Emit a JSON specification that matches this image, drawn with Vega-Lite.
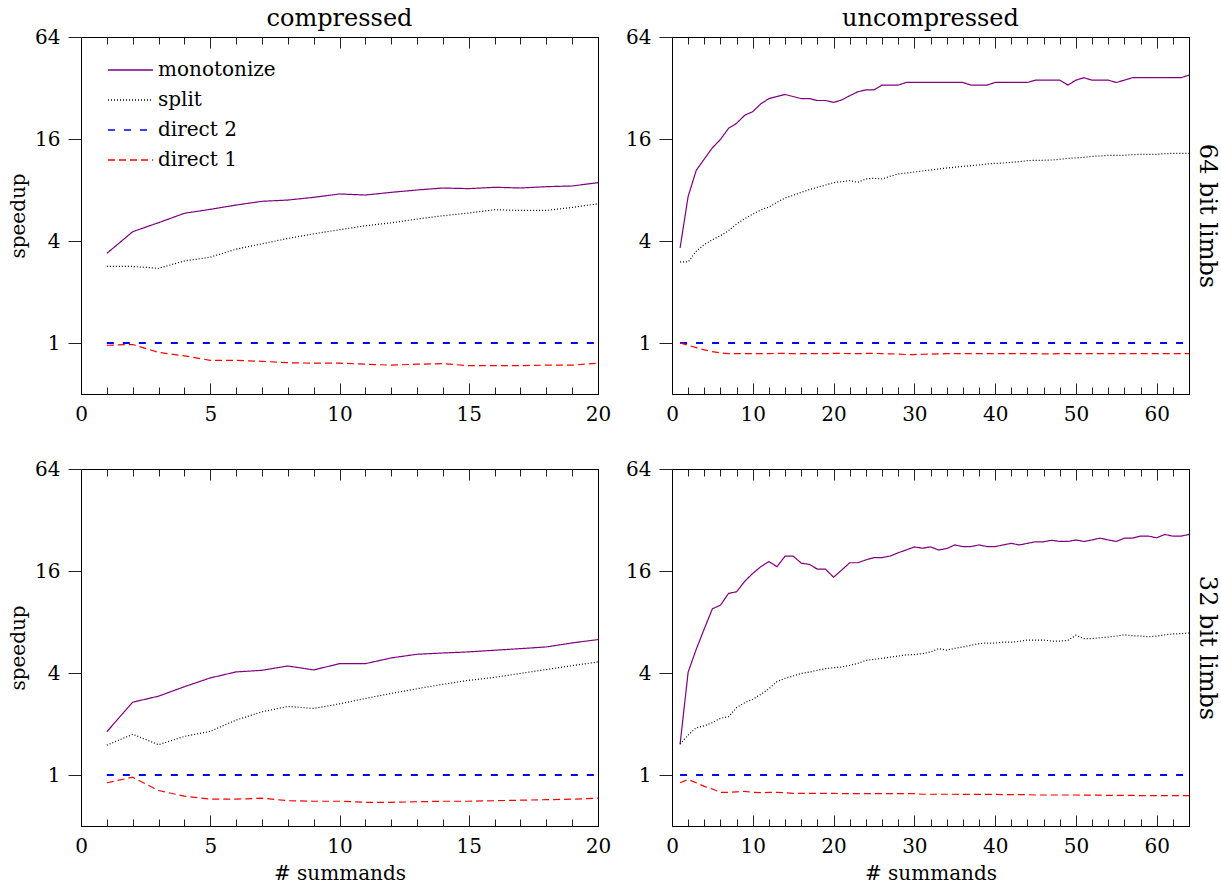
{
  "$schema": "https://vega.github.io/schema/vega-lite/v6.json",
  "padding": {"left": 8, "top": 6, "right": 4, "bottom": 2},
  "config": {
    "font": "DejaVu Serif",
    "view": {"stroke": "black", "strokeWidth": 1},
    "axis": {"labelFont": "DejaVu Serif", "labelFontSize": 20, "labelColor": "black", "titleFont": "DejaVu Serif", "titleFontSize": 20, "titleFontWeight": "normal", "titleColor": "black", "domainColor": "black", "tickColor": "#222", "tickWidth": 1, "grid": false, "labelFlush": false, "labelOverlap": false},
    "title": {"font": "DejaVu Serif", "fontSize": 24, "fontWeight": "normal", "color": "black", "offset": -4},
    "legend": {"labelFont": "DejaVu Serif", "labelFontSize": 20, "labelColor": "black"}
  },
  "datasets": {
    "tl": [
      {"n":1,"monotonize":3.38,"split":2.83,"direct 2":1,"direct 1":0.97},
      {"n":2,"monotonize":4.54,"split":2.83,"direct 2":1,"direct 1":0.98},
      {"n":3,"monotonize":5.13,"split":2.76,"direct 2":1,"direct 1":0.88},
      {"n":4,"monotonize":5.83,"split":3.05,"direct 2":1,"direct 1":0.84},
      {"n":5,"monotonize":6.15,"split":3.21,"direct 2":1,"direct 1":0.79},
      {"n":6,"monotonize":6.52,"split":3.58,"direct 2":1,"direct 1":0.79},
      {"n":7,"monotonize":6.86,"split":3.85,"direct 2":1,"direct 1":0.78},
      {"n":8,"monotonize":6.98,"split":4.14,"direct 2":1,"direct 1":0.765},
      {"n":9,"monotonize":7.24,"split":4.41,"direct 2":1,"direct 1":0.76},
      {"n":10,"monotonize":7.58,"split":4.66,"direct 2":1,"direct 1":0.76},
      {"n":11,"monotonize":7.47,"split":4.92,"direct 2":1,"direct 1":0.75},
      {"n":12,"monotonize":7.75,"split":5.12,"direct 2":1,"direct 1":0.74},
      {"n":13,"monotonize":8.0,"split":5.39,"direct 2":1,"direct 1":0.75},
      {"n":14,"monotonize":8.22,"split":5.64,"direct 2":1,"direct 1":0.755},
      {"n":15,"monotonize":8.15,"split":5.85,"direct 2":1,"direct 1":0.735},
      {"n":16,"monotonize":8.30,"split":6.12,"direct 2":1,"direct 1":0.735},
      {"n":17,"monotonize":8.22,"split":6.06,"direct 2":1,"direct 1":0.735},
      {"n":18,"monotonize":8.37,"split":6.06,"direct 2":1,"direct 1":0.74},
      {"n":19,"monotonize":8.45,"split":6.31,"direct 2":1,"direct 1":0.74},
      {"n":20,"monotonize":8.84,"split":6.64,"direct 2":1,"direct 1":0.76}
    ],
    "bl": [
      {"n":1,"monotonize":1.80,"split":1.50,"direct 2":1,"direct 1":0.90},
      {"n":2,"monotonize":2.69,"split":1.74,"direct 2":1,"direct 1":0.97},
      {"n":3,"monotonize":2.92,"split":1.51,"direct 2":1,"direct 1":0.81},
      {"n":4,"monotonize":3.32,"split":1.69,"direct 2":1,"direct 1":0.75},
      {"n":5,"monotonize":3.74,"split":1.81,"direct 2":1,"direct 1":0.72},
      {"n":6,"monotonize":4.06,"split":2.11,"direct 2":1,"direct 1":0.72},
      {"n":7,"monotonize":4.15,"split":2.36,"direct 2":1,"direct 1":0.73},
      {"n":8,"monotonize":4.40,"split":2.54,"direct 2":1,"direct 1":0.705},
      {"n":9,"monotonize":4.17,"split":2.47,"direct 2":1,"direct 1":0.70},
      {"n":10,"monotonize":4.54,"split":2.63,"direct 2":1,"direct 1":0.70},
      {"n":11,"monotonize":4.54,"split":2.83,"direct 2":1,"direct 1":0.69},
      {"n":12,"monotonize":4.91,"split":3.03,"direct 2":1,"direct 1":0.69},
      {"n":13,"monotonize":5.16,"split":3.23,"direct 2":1,"direct 1":0.695},
      {"n":14,"monotonize":5.25,"split":3.43,"direct 2":1,"direct 1":0.70},
      {"n":15,"monotonize":5.33,"split":3.62,"direct 2":1,"direct 1":0.70},
      {"n":16,"monotonize":5.45,"split":3.77,"direct 2":1,"direct 1":0.705},
      {"n":17,"monotonize":5.57,"split":3.98,"direct 2":1,"direct 1":0.71},
      {"n":18,"monotonize":5.70,"split":4.19,"direct 2":1,"direct 1":0.715},
      {"n":19,"monotonize":6.02,"split":4.42,"direct 2":1,"direct 1":0.72},
      {"n":20,"monotonize":6.30,"split":4.65,"direct 2":1,"direct 1":0.73}
    ],
    "tr": [
      {"n":1,"monotonize":3.64,"split":3.01,"direct 2":1,"direct 1":1.0},
      {"n":2,"monotonize":7.34,"split":3.01,"direct 2":1,"direct 1":0.97},
      {"n":3,"monotonize":10.45,"split":3.48,"direct 2":1,"direct 1":0.94},
      {"n":4,"monotonize":12.2,"split":3.81,"direct 2":1,"direct 1":0.91},
      {"n":5,"monotonize":14.2,"split":4.07,"direct 2":1,"direct 1":0.89},
      {"n":6,"monotonize":15.9,"split":4.30,"direct 2":1,"direct 1":0.875},
      {"n":7,"monotonize":18.5,"split":4.60,"direct 2":1,"direct 1":0.865},
      {"n":8,"monotonize":19.8,"split":5.04,"direct 2":1,"direct 1":0.865},
      {"n":9,"monotonize":22.1,"split":5.42,"direct 2":1,"direct 1":0.865},
      {"n":10,"monotonize":23.2,"split":5.77,"direct 2":1,"direct 1":0.865},
      {"n":11,"monotonize":25.8,"split":6.10,"direct 2":1,"direct 1":0.865},
      {"n":12,"monotonize":27.7,"split":6.35,"direct 2":1,"direct 1":0.865},
      {"n":13,"monotonize":28.5,"split":6.77,"direct 2":1,"direct 1":0.868},
      {"n":14,"monotonize":29.3,"split":7.18,"direct 2":1,"direct 1":0.868},
      {"n":15,"monotonize":28.5,"split":7.44,"direct 2":1,"direct 1":0.865},
      {"n":16,"monotonize":27.7,"split":7.75,"direct 2":1,"direct 1":0.865},
      {"n":17,"monotonize":27.7,"split":8.04,"direct 2":1,"direct 1":0.865},
      {"n":18,"monotonize":27.0,"split":8.30,"direct 2":1,"direct 1":0.865},
      {"n":19,"monotonize":27.0,"split":8.56,"direct 2":1,"direct 1":0.865},
      {"n":20,"monotonize":26.3,"split":8.84,"direct 2":1,"direct 1":0.868},
      {"n":21,"monotonize":27.2,"split":8.96,"direct 2":1,"direct 1":0.868},
      {"n":22,"monotonize":28.8,"split":9.08,"direct 2":1,"direct 1":0.865},
      {"n":23,"monotonize":30.4,"split":8.88,"direct 2":1,"direct 1":0.865},
      {"n":24,"monotonize":31.2,"split":9.29,"direct 2":1,"direct 1":0.868},
      {"n":25,"monotonize":31.2,"split":9.38,"direct 2":1,"direct 1":0.868},
      {"n":26,"monotonize":33.3,"split":9.29,"direct 2":1,"direct 1":0.865},
      {"n":27,"monotonize":33.3,"split":9.64,"direct 2":1,"direct 1":0.862},
      {"n":28,"monotonize":33.3,"split":9.95,"direct 2":1,"direct 1":0.86},
      {"n":29,"monotonize":34.5,"split":10.08,"direct 2":1,"direct 1":0.855},
      {"n":30,"monotonize":34.5,"split":10.22,"direct 2":1,"direct 1":0.855},
      {"n":31,"monotonize":34.5,"split":10.36,"direct 2":1,"direct 1":0.858},
      {"n":32,"monotonize":34.5,"split":10.50,"direct 2":1,"direct 1":0.86},
      {"n":33,"monotonize":34.5,"split":10.64,"direct 2":1,"direct 1":0.862},
      {"n":34,"monotonize":34.5,"split":10.79,"direct 2":1,"direct 1":0.865},
      {"n":35,"monotonize":34.5,"split":10.89,"direct 2":1,"direct 1":0.865},
      {"n":36,"monotonize":34.5,"split":11.03,"direct 2":1,"direct 1":0.865},
      {"n":37,"monotonize":33.3,"split":11.13,"direct 2":1,"direct 1":0.865},
      {"n":38,"monotonize":33.3,"split":11.24,"direct 2":1,"direct 1":0.865},
      {"n":39,"monotonize":33.3,"split":11.39,"direct 2":1,"direct 1":0.865},
      {"n":40,"monotonize":34.5,"split":11.49,"direct 2":1,"direct 1":0.865},
      {"n":41,"monotonize":34.5,"split":11.55,"direct 2":1,"direct 1":0.865},
      {"n":42,"monotonize":34.5,"split":11.65,"direct 2":1,"direct 1":0.865},
      {"n":43,"monotonize":34.5,"split":11.76,"direct 2":1,"direct 1":0.865},
      {"n":44,"monotonize":34.5,"split":11.92,"direct 2":1,"direct 1":0.865},
      {"n":45,"monotonize":35.6,"split":11.98,"direct 2":1,"direct 1":0.865},
      {"n":46,"monotonize":35.6,"split":11.98,"direct 2":1,"direct 1":0.862},
      {"n":47,"monotonize":35.6,"split":12.03,"direct 2":1,"direct 1":0.862},
      {"n":48,"monotonize":35.6,"split":12.14,"direct 2":1,"direct 1":0.865},
      {"n":49,"monotonize":33.3,"split":12.30,"direct 2":1,"direct 1":0.865},
      {"n":50,"monotonize":35.6,"split":12.37,"direct 2":1,"direct 1":0.865},
      {"n":51,"monotonize":36.8,"split":12.48,"direct 2":1,"direct 1":0.865},
      {"n":52,"monotonize":35.6,"split":12.64,"direct 2":1,"direct 1":0.865},
      {"n":53,"monotonize":35.6,"split":12.70,"direct 2":1,"direct 1":0.865},
      {"n":54,"monotonize":35.6,"split":12.82,"direct 2":1,"direct 1":0.865},
      {"n":55,"monotonize":34.5,"split":12.82,"direct 2":1,"direct 1":0.865},
      {"n":56,"monotonize":35.6,"split":12.82,"direct 2":1,"direct 1":0.865},
      {"n":57,"monotonize":36.8,"split":12.93,"direct 2":1,"direct 1":0.865},
      {"n":58,"monotonize":36.8,"split":12.99,"direct 2":1,"direct 1":0.865},
      {"n":59,"monotonize":36.8,"split":12.99,"direct 2":1,"direct 1":0.865},
      {"n":60,"monotonize":36.8,"split":12.99,"direct 2":1,"direct 1":0.865},
      {"n":61,"monotonize":36.8,"split":13.10,"direct 2":1,"direct 1":0.865},
      {"n":62,"monotonize":36.8,"split":13.17,"direct 2":1,"direct 1":0.865},
      {"n":63,"monotonize":36.8,"split":13.17,"direct 2":1,"direct 1":0.865},
      {"n":64,"monotonize":38.1,"split":13.17,"direct 2":1,"direct 1":0.865}
    ],
    "br": [
      {"n":1,"monotonize":1.52,"split":1.52,"direct 2":1,"direct 1":0.90},
      {"n":2,"monotonize":4.05,"split":1.72,"direct 2":1,"direct 1":0.94},
      {"n":3,"monotonize":5.52,"split":1.90,"direct 2":1,"direct 1":0.90},
      {"n":4,"monotonize":7.30,"split":1.95,"direct 2":1,"direct 1":0.857},
      {"n":5,"monotonize":9.57,"split":2.04,"direct 2":1,"direct 1":0.826},
      {"n":6,"monotonize":10.06,"split":2.16,"direct 2":1,"direct 1":0.79},
      {"n":7,"monotonize":11.8,"split":2.21,"direct 2":1,"direct 1":0.79},
      {"n":8,"monotonize":12.07,"split":2.50,"direct 2":1,"direct 1":0.795},
      {"n":9,"monotonize":13.9,"split":2.67,"direct 2":1,"direct 1":0.80},
      {"n":10,"monotonize":15.5,"split":2.80,"direct 2":1,"direct 1":0.79},
      {"n":11,"monotonize":16.97,"split":2.99,"direct 2":1,"direct 1":0.786},
      {"n":12,"monotonize":18.2,"split":3.23,"direct 2":1,"direct 1":0.79},
      {"n":13,"monotonize":16.97,"split":3.56,"direct 2":1,"direct 1":0.79},
      {"n":14,"monotonize":19.6,"split":3.72,"direct 2":1,"direct 1":0.785},
      {"n":15,"monotonize":19.6,"split":3.84,"direct 2":1,"direct 1":0.78},
      {"n":16,"monotonize":17.8,"split":3.98,"direct 2":1,"direct 1":0.78},
      {"n":17,"monotonize":17.5,"split":4.05,"direct 2":1,"direct 1":0.78},
      {"n":18,"monotonize":16.4,"split":4.15,"direct 2":1,"direct 1":0.78},
      {"n":19,"monotonize":16.4,"split":4.24,"direct 2":1,"direct 1":0.78},
      {"n":20,"monotonize":14.7,"split":4.30,"direct 2":1,"direct 1":0.78},
      {"n":21,"monotonize":16.2,"split":4.34,"direct 2":1,"direct 1":0.776},
      {"n":22,"monotonize":17.9,"split":4.44,"direct 2":1,"direct 1":0.776},
      {"n":23,"monotonize":17.9,"split":4.56,"direct 2":1,"direct 1":0.776},
      {"n":24,"monotonize":18.6,"split":4.75,"direct 2":1,"direct 1":0.776},
      {"n":25,"monotonize":19.2,"split":4.81,"direct 2":1,"direct 1":0.776},
      {"n":26,"monotonize":19.2,"split":4.88,"direct 2":1,"direct 1":0.776},
      {"n":27,"monotonize":19.6,"split":4.96,"direct 2":1,"direct 1":0.776},
      {"n":28,"monotonize":20.5,"split":5.04,"direct 2":1,"direct 1":0.776},
      {"n":29,"monotonize":21.3,"split":5.12,"direct 2":1,"direct 1":0.776},
      {"n":30,"monotonize":22.2,"split":5.14,"direct 2":1,"direct 1":0.776},
      {"n":31,"monotonize":21.8,"split":5.20,"direct 2":1,"direct 1":0.77},
      {"n":32,"monotonize":22.2,"split":5.32,"direct 2":1,"direct 1":0.77},
      {"n":33,"monotonize":21.3,"split":5.57,"direct 2":1,"direct 1":0.77},
      {"n":34,"monotonize":21.7,"split":5.46,"direct 2":1,"direct 1":0.77},
      {"n":35,"monotonize":22.8,"split":5.59,"direct 2":1,"direct 1":0.77},
      {"n":36,"monotonize":22.3,"split":5.70,"direct 2":1,"direct 1":0.768},
      {"n":37,"monotonize":22.3,"split":5.83,"direct 2":1,"direct 1":0.768},
      {"n":38,"monotonize":22.8,"split":5.96,"direct 2":1,"direct 1":0.768},
      {"n":39,"monotonize":22.3,"split":6.01,"direct 2":1,"direct 1":0.768},
      {"n":40,"monotonize":22.3,"split":6.01,"direct 2":1,"direct 1":0.768},
      {"n":41,"monotonize":22.8,"split":6.08,"direct 2":1,"direct 1":0.765},
      {"n":42,"monotonize":23.3,"split":6.08,"direct 2":1,"direct 1":0.765},
      {"n":43,"monotonize":22.8,"split":6.15,"direct 2":1,"direct 1":0.765},
      {"n":44,"monotonize":23.3,"split":6.26,"direct 2":1,"direct 1":0.765},
      {"n":45,"monotonize":23.8,"split":6.26,"direct 2":1,"direct 1":0.762},
      {"n":46,"monotonize":23.8,"split":6.26,"direct 2":1,"direct 1":0.762},
      {"n":47,"monotonize":24.3,"split":6.17,"direct 2":1,"direct 1":0.762},
      {"n":48,"monotonize":23.9,"split":6.17,"direct 2":1,"direct 1":0.762},
      {"n":49,"monotonize":23.9,"split":6.23,"direct 2":1,"direct 1":0.762},
      {"n":50,"monotonize":24.4,"split":6.68,"direct 2":1,"direct 1":0.762},
      {"n":51,"monotonize":23.9,"split":6.38,"direct 2":1,"direct 1":0.76},
      {"n":52,"monotonize":24.4,"split":6.38,"direct 2":1,"direct 1":0.76},
      {"n":53,"monotonize":25.0,"split":6.46,"direct 2":1,"direct 1":0.76},
      {"n":54,"monotonize":24.4,"split":6.52,"direct 2":1,"direct 1":0.758},
      {"n":55,"monotonize":23.9,"split":6.61,"direct 2":1,"direct 1":0.758},
      {"n":56,"monotonize":25.0,"split":6.72,"direct 2":1,"direct 1":0.758},
      {"n":57,"monotonize":25.0,"split":6.64,"direct 2":1,"direct 1":0.758},
      {"n":58,"monotonize":25.7,"split":6.61,"direct 2":1,"direct 1":0.756},
      {"n":59,"monotonize":25.7,"split":6.55,"direct 2":1,"direct 1":0.756},
      {"n":60,"monotonize":25.1,"split":6.61,"direct 2":1,"direct 1":0.756},
      {"n":61,"monotonize":26.3,"split":6.72,"direct 2":1,"direct 1":0.755},
      {"n":62,"monotonize":25.7,"split":6.80,"direct 2":1,"direct 1":0.755},
      {"n":63,"monotonize":25.7,"split":6.83,"direct 2":1,"direct 1":0.755},
      {"n":64,"monotonize":26.3,"split":6.89,"direct 2":1,"direct 1":0.755}
    ]
  },
  "columns": 2,
  "bounds": "flush",
  "spacing": {"row": 75, "column": 74},
  "resolve": {
    "scale": {"color": "independent", "strokeDash": "independent"},
    "legend": {"color": "independent", "strokeDash": "independent"}
  },
  "concat": [
    {
      "width": 517, "height": 357,
      "data": {"name": "tl"},
      "transform": [{"fold": ["monotonize", "split", "direct 2", "direct 1"], "as": ["series", "speedup"]}],
      "title": {"text": "compressed"},
      "layer": [
        {
          "mark": {"type": "line"},
          "encoding": {
            "x": {"field": "n", "type": "quantitative", "scale": {"domain": [0, 20], "nice": false, "zero": false},
              "axis": {"orient": "bottom", "title": null, "values": [0,1,2,3,4,5,6,7,8,9,10,11,12,13,14,15,16,17,18,19,20], "labelExpr": "datum.value % 5 === 0 ? datum.label : ''", "tickSize": {"condition": {"test": "datum.value % 5 === 0", "value": -11}, "value": -7}, "labelPadding": 21}},
            "y": {"field": "speedup", "type": "quantitative", "scale": {"type": "log", "base": 2, "domain": [0.5, 64], "nice": false},
              "axis": {"orient": "left", "title": "speedup", "values": [1, 4, 16, 64], "labelExpr": "'' + datum.value", "tickSize": 13, "labelPadding": 8, "titlePadding": 6}},
            "color": {"field": "series", "type": "nominal", "scale": {"domain": ["monotonize", "split", "direct 2", "direct 1"], "range": ["#800080", "#000000", "#0000ff", "#ff0000"]},
              "legend": {"orient": "none", "legendX": 26, "legendY": 23, "padding": 0, "title": null, "symbolType": "stroke", "symbolSize": 2025, "clipHeight": 20, "labelOffset": 4, "rowPadding": 10, "symbolStrokeWidth": 1.6}},
            "strokeDash": {"field": "series", "type": "nominal", "scale": {"domain": ["monotonize", "split", "direct 2", "direct 1"], "range": [[1, 0], [1, 2], [7, 9], [7, 4]]},
              "legend": {"orient": "none", "legendX": 26, "legendY": 23, "padding": 0, "title": null, "symbolType": "stroke", "symbolSize": 2025, "clipHeight": 20, "labelOffset": 4, "rowPadding": 10, "symbolStrokeWidth": 1.6}},
            "strokeWidth": {"condition": {"test": "datum.series === 'direct 2'", "value": 2.2}, "value": 1.2}
          }
        },
        {
          "mark": {"type": "point", "opacity": 0},
          "encoding": {
            "x": {"field": "n", "type": "quantitative", "axis": {"orient": "top", "title": null, "labels": false, "values": [0,1,2,3,4,5,6,7,8,9,10,11,12,13,14,15,16,17,18,19,20], "tickSize": {"condition": {"test": "datum.value % 5 === 0", "value": -11}, "value": -7}}},
            "y": {"field": "speedup", "type": "quantitative", "axis": {"orient": "right", "title": null, "labels": false, "ticks": false, "domain": true}}
          }
        }
      ]
    },
    {
      "width": 517, "height": 357,
      "data": {"name": "tr"},
      "transform": [{"fold": ["monotonize", "split", "direct 2", "direct 1"], "as": ["series", "speedup"]}],
      "title": {"text": "uncompressed"},
      "layer": [
        {
          "mark": {"type": "line"},
          "encoding": {
            "x": {"field": "n", "type": "quantitative", "scale": {"domain": [0, 64], "nice": false, "zero": false},
              "axis": {"orient": "bottom", "title": null, "values": [0,2,4,6,8,10,12,14,16,18,20,22,24,26,28,30,32,34,36,38,40,42,44,46,48,50,52,54,56,58,60,62,64], "labelExpr": "datum.value % 10 === 0 ? datum.label : ''", "tickSize": {"condition": {"test": "datum.value % 10 === 0", "value": -11}, "value": -7}, "labelPadding": 21}},
            "y": {"field": "speedup", "type": "quantitative", "scale": {"type": "log", "base": 2, "domain": [0.5, 64], "nice": false},
              "axis": {"orient": "left", "title": null, "values": [1, 4, 16, 64], "labelExpr": "'' + datum.value", "tickSize": 13, "labelPadding": 8}},
            "color": {"field": "series", "type": "nominal", "scale": {"domain": ["monotonize", "split", "direct 2", "direct 1"], "range": ["#800080", "#000000", "#0000ff", "#ff0000"]}, "legend": null},
            "strokeDash": {"field": "series", "type": "nominal", "scale": {"domain": ["monotonize", "split", "direct 2", "direct 1"], "range": [[1, 0], [1, 2], [7, 9], [7, 4]]}, "legend": null},
            "strokeWidth": {"condition": {"test": "datum.series === 'direct 2'", "value": 2.2}, "value": 1.2}
          }
        },
        {
          "mark": {"type": "point", "opacity": 0},
          "encoding": {
            "x": {"field": "n", "type": "quantitative", "axis": {"orient": "top", "title": null, "labels": false, "values": [0,2,4,6,8,10,12,14,16,18,20,22,24,26,28,30,32,34,36,38,40,42,44,46,48,50,52,54,56,58,60,62,64], "tickSize": {"condition": {"test": "datum.value % 10 === 0", "value": -11}, "value": -7}}},
            "y": {"field": "speedup", "type": "quantitative", "axis": {"orient": "right", "title": "64 bit limbs", "labels": false, "ticks": false, "domain": true, "titleFontSize": 24, "titleAngle": 90, "titlePadding": 5}}
          }
        }
      ]
    },
    {
      "width": 517, "height": 357,
      "data": {"name": "bl"},
      "transform": [{"fold": ["monotonize", "split", "direct 2", "direct 1"], "as": ["series", "speedup"]}],
      "layer": [
        {
          "mark": {"type": "line"},
          "encoding": {
            "x": {"field": "n", "type": "quantitative", "scale": {"domain": [0, 20], "nice": false, "zero": false},
              "axis": {"orient": "bottom", "title": "# summands", "titlePadding": 3, "values": [0,1,2,3,4,5,6,7,8,9,10,11,12,13,14,15,16,17,18,19,20], "labelExpr": "datum.value % 5 === 0 ? datum.label : ''", "tickSize": {"condition": {"test": "datum.value % 5 === 0", "value": -11}, "value": -7}, "labelPadding": 21}},
            "y": {"field": "speedup", "type": "quantitative", "scale": {"type": "log", "base": 2, "domain": [0.5, 64], "nice": false},
              "axis": {"orient": "left", "title": "speedup", "values": [1, 4, 16, 64], "labelExpr": "'' + datum.value", "tickSize": 13, "labelPadding": 8, "titlePadding": 6}},
            "color": {"field": "series", "type": "nominal", "scale": {"domain": ["monotonize", "split", "direct 2", "direct 1"], "range": ["#800080", "#000000", "#0000ff", "#ff0000"]}, "legend": null},
            "strokeDash": {"field": "series", "type": "nominal", "scale": {"domain": ["monotonize", "split", "direct 2", "direct 1"], "range": [[1, 0], [1, 2], [7, 9], [7, 4]]}, "legend": null},
            "strokeWidth": {"condition": {"test": "datum.series === 'direct 2'", "value": 2.2}, "value": 1.2}
          }
        },
        {
          "mark": {"type": "point", "opacity": 0},
          "encoding": {
            "x": {"field": "n", "type": "quantitative", "axis": {"orient": "top", "title": null, "labels": false, "values": [0,1,2,3,4,5,6,7,8,9,10,11,12,13,14,15,16,17,18,19,20], "tickSize": {"condition": {"test": "datum.value % 5 === 0", "value": -11}, "value": -7}}},
            "y": {"field": "speedup", "type": "quantitative", "axis": {"orient": "right", "title": null, "labels": false, "ticks": false, "domain": true}}
          }
        }
      ]
    },
    {
      "width": 517, "height": 357,
      "data": {"name": "br"},
      "transform": [{"fold": ["monotonize", "split", "direct 2", "direct 1"], "as": ["series", "speedup"]}],
      "layer": [
        {
          "mark": {"type": "line"},
          "encoding": {
            "x": {"field": "n", "type": "quantitative", "scale": {"domain": [0, 64], "nice": false, "zero": false},
              "axis": {"orient": "bottom", "title": "# summands", "titlePadding": 3, "values": [0,2,4,6,8,10,12,14,16,18,20,22,24,26,28,30,32,34,36,38,40,42,44,46,48,50,52,54,56,58,60,62,64], "labelExpr": "datum.value % 10 === 0 ? datum.label : ''", "tickSize": {"condition": {"test": "datum.value % 10 === 0", "value": -11}, "value": -7}, "labelPadding": 21}},
            "y": {"field": "speedup", "type": "quantitative", "scale": {"type": "log", "base": 2, "domain": [0.5, 64], "nice": false},
              "axis": {"orient": "left", "title": null, "values": [1, 4, 16, 64], "labelExpr": "'' + datum.value", "tickSize": 13, "labelPadding": 8}},
            "color": {"field": "series", "type": "nominal", "scale": {"domain": ["monotonize", "split", "direct 2", "direct 1"], "range": ["#800080", "#000000", "#0000ff", "#ff0000"]}, "legend": null},
            "strokeDash": {"field": "series", "type": "nominal", "scale": {"domain": ["monotonize", "split", "direct 2", "direct 1"], "range": [[1, 0], [1, 2], [7, 9], [7, 4]]}, "legend": null},
            "strokeWidth": {"condition": {"test": "datum.series === 'direct 2'", "value": 2.2}, "value": 1.2}
          }
        },
        {
          "mark": {"type": "point", "opacity": 0},
          "encoding": {
            "x": {"field": "n", "type": "quantitative", "axis": {"orient": "top", "title": null, "labels": false, "values": [0,2,4,6,8,10,12,14,16,18,20,22,24,26,28,30,32,34,36,38,40,42,44,46,48,50,52,54,56,58,60,62,64], "tickSize": {"condition": {"test": "datum.value % 10 === 0", "value": -11}, "value": -7}}},
            "y": {"field": "speedup", "type": "quantitative", "axis": {"orient": "right", "title": "32 bit limbs", "labels": false, "ticks": false, "domain": true, "titleFontSize": 24, "titleAngle": 90, "titlePadding": 5}}
          }
        }
      ]
    }
  ]
}
